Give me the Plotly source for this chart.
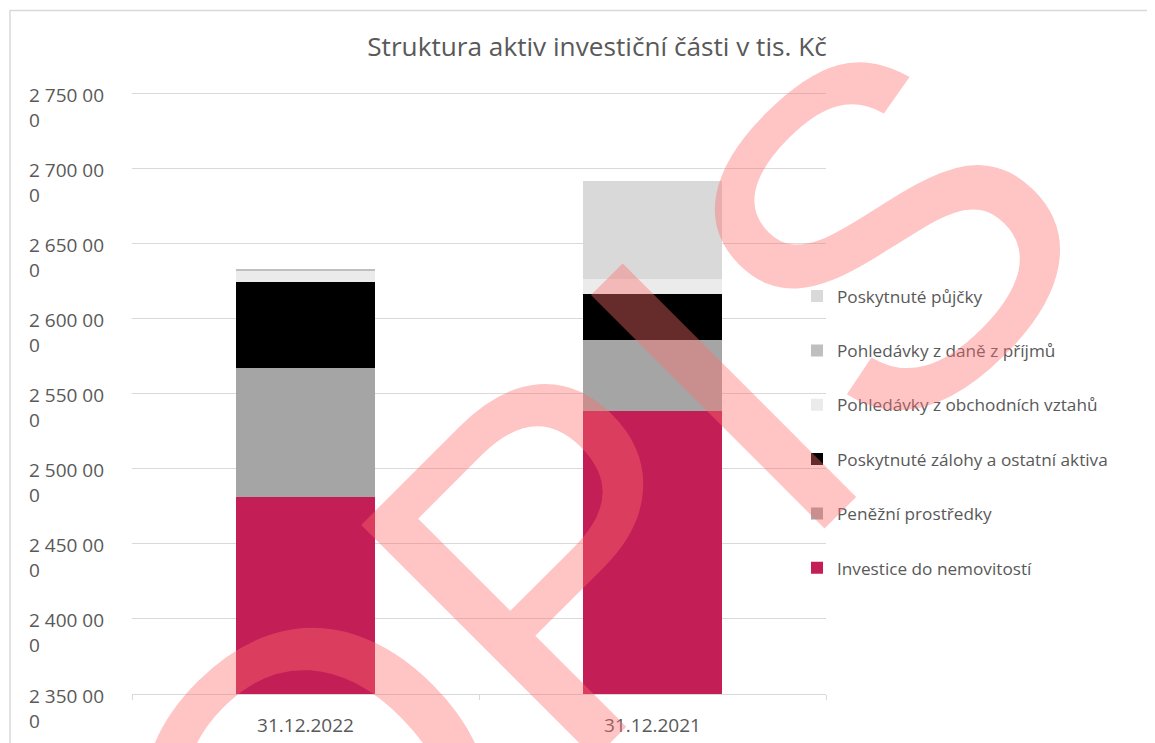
import plotly.graph_objects as go

# ---- data ----
categories = ["31.12.2022", "31.12.2021"]
investice = [2481500, 2538700]          # Investice do nemovitostí
penezni = [85600, 47100]                # Peněžní prostředky
zalohy = [57500, 30400]                 # Poskytnuté zálohy a ostatní aktiva
obchodni = [7800, 10300]                # Pohledávky z obchodních vztahů
dan = [700, 0]                          # Pohledávky z daně z příjmů
pujcky = [0, 65500]                     # Poskytnuté půjčky

series_names = [
    "Investice do nemovitostí",
    "Peněžní prostředky",
    "Poskytnuté zálohy a ostatní aktiva",
    "Pohledávky z obchodních vztahů",
    "Pohledávky z daně z příjmů",
    "Poskytnuté půjčky",
]
series_values = [investice, penezni, zalohy, obchodni, dan, pujcky]
series_colors = ["#C41E56", "#A5A5A5", "#000000", "#EBEBEB", "#BFBFBF", "#D9D9D9"]

y_ticks = [2350000, 2400000, 2450000, 2500000, 2550000, 2600000, 2650000, 2700000, 2750000]
y_range = [2350000, 2751000]
title_text = "Struktura aktiv investiční části v tis. Kč"
watermark = "OPIS"

# ---- geometry (pixels, page coords; page body has an 8px margin) ----
OFF = 8
W, H = 1155 - OFF, 743 - OFF
L, R, T, B = 132 - OFF, 826 - OFF, 91.5 - OFF, 694 - OFF
pw, ph = R - L, B - T


def px_x(x):
    return (x - OFF - L) / pw


def px_y(y):
    return (B - (y - OFF)) / ph


FONT = "Open Sans"
GREY_TXT = "#595959"

fig = go.Figure()
n = len(series_names)
for i, (name, vals, col) in enumerate(zip(series_names, series_values, series_colors)):
    fig.add_trace(go.Bar(
        x=categories, y=vals, name=name, legendgroup=name, legendrank=n - i,
        marker=dict(color=col, line=dict(width=0)),
    ))


def fmt(v):
    s = f"{v:,}".replace(",", " ")
    return s[:-1] + "<br>" + s[-1]


annotations = []
for v in y_ticks:
    annotations.append(dict(
        x=px_x(27), xref="paper", y=v, yref="y", text=fmt(v),
        xanchor="left", yanchor="middle", align="left", yshift=-14,
        showarrow=False, font=dict(family=FONT, size=19, color=GREY_TXT),
    ))

# watermark stamp
annotations.append(dict(
    x=px_x(590), xref="paper", y=px_y(527), yref="paper", text=watermark,
    textangle=-45, xanchor="center", yanchor="middle", showarrow=False,
    font=dict(family="Liberation Sans", size=480, color="rgba(255,108,108,0.4)"),
))

fig.update_layout(
    width=W, height=H,
    margin=dict(l=L, r=W - R, t=T, b=H - B, pad=0, autoexpand=False),
    paper_bgcolor="white", plot_bgcolor="white",
    barmode="stack", bargap=0.6,
    title=dict(text=title_text, x=(597 - OFF) / W, xref="container", xanchor="center",
               y=1 - (47 - OFF) / H, yref="container", yanchor="middle",
               font=dict(family=FONT, size=26.2, color=GREY_TXT)),
    xaxis=dict(showline=True, linecolor="#D9D9D9", linewidth=1, automargin=False,
               ticks="outside", tickson="boundaries", ticklen=5, tickcolor="#D9D9D9",
               tickfont=dict(family=FONT, size=19, color=GREY_TXT),
               ticklabelstandoff=14, showgrid=False),
    yaxis=dict(range=y_range, tickvals=y_ticks, showticklabels=False, automargin=False,
               showgrid=True, gridcolor="#D9D9D9", gridwidth=1, zeroline=False,
               showline=False),
    legend=dict(x=px_x(797), xanchor="left", y=px_y(278), yanchor="top",
                traceorder="grouped", tracegroupgap=29,
                font=dict(family=FONT, size=17.2, color=GREY_TXT),
                bgcolor="rgba(0,0,0,0)"),
    annotations=annotations,
    shapes=[dict(type="rect", xref="paper", yref="paper",
                 x0=px_x(10), x1=px_x(1170), y0=px_y(760), y1=px_y(10),
                 line=dict(color="#D9D9D9", width=1.5), layer="below")],
)

fig.write_html("out.html")
